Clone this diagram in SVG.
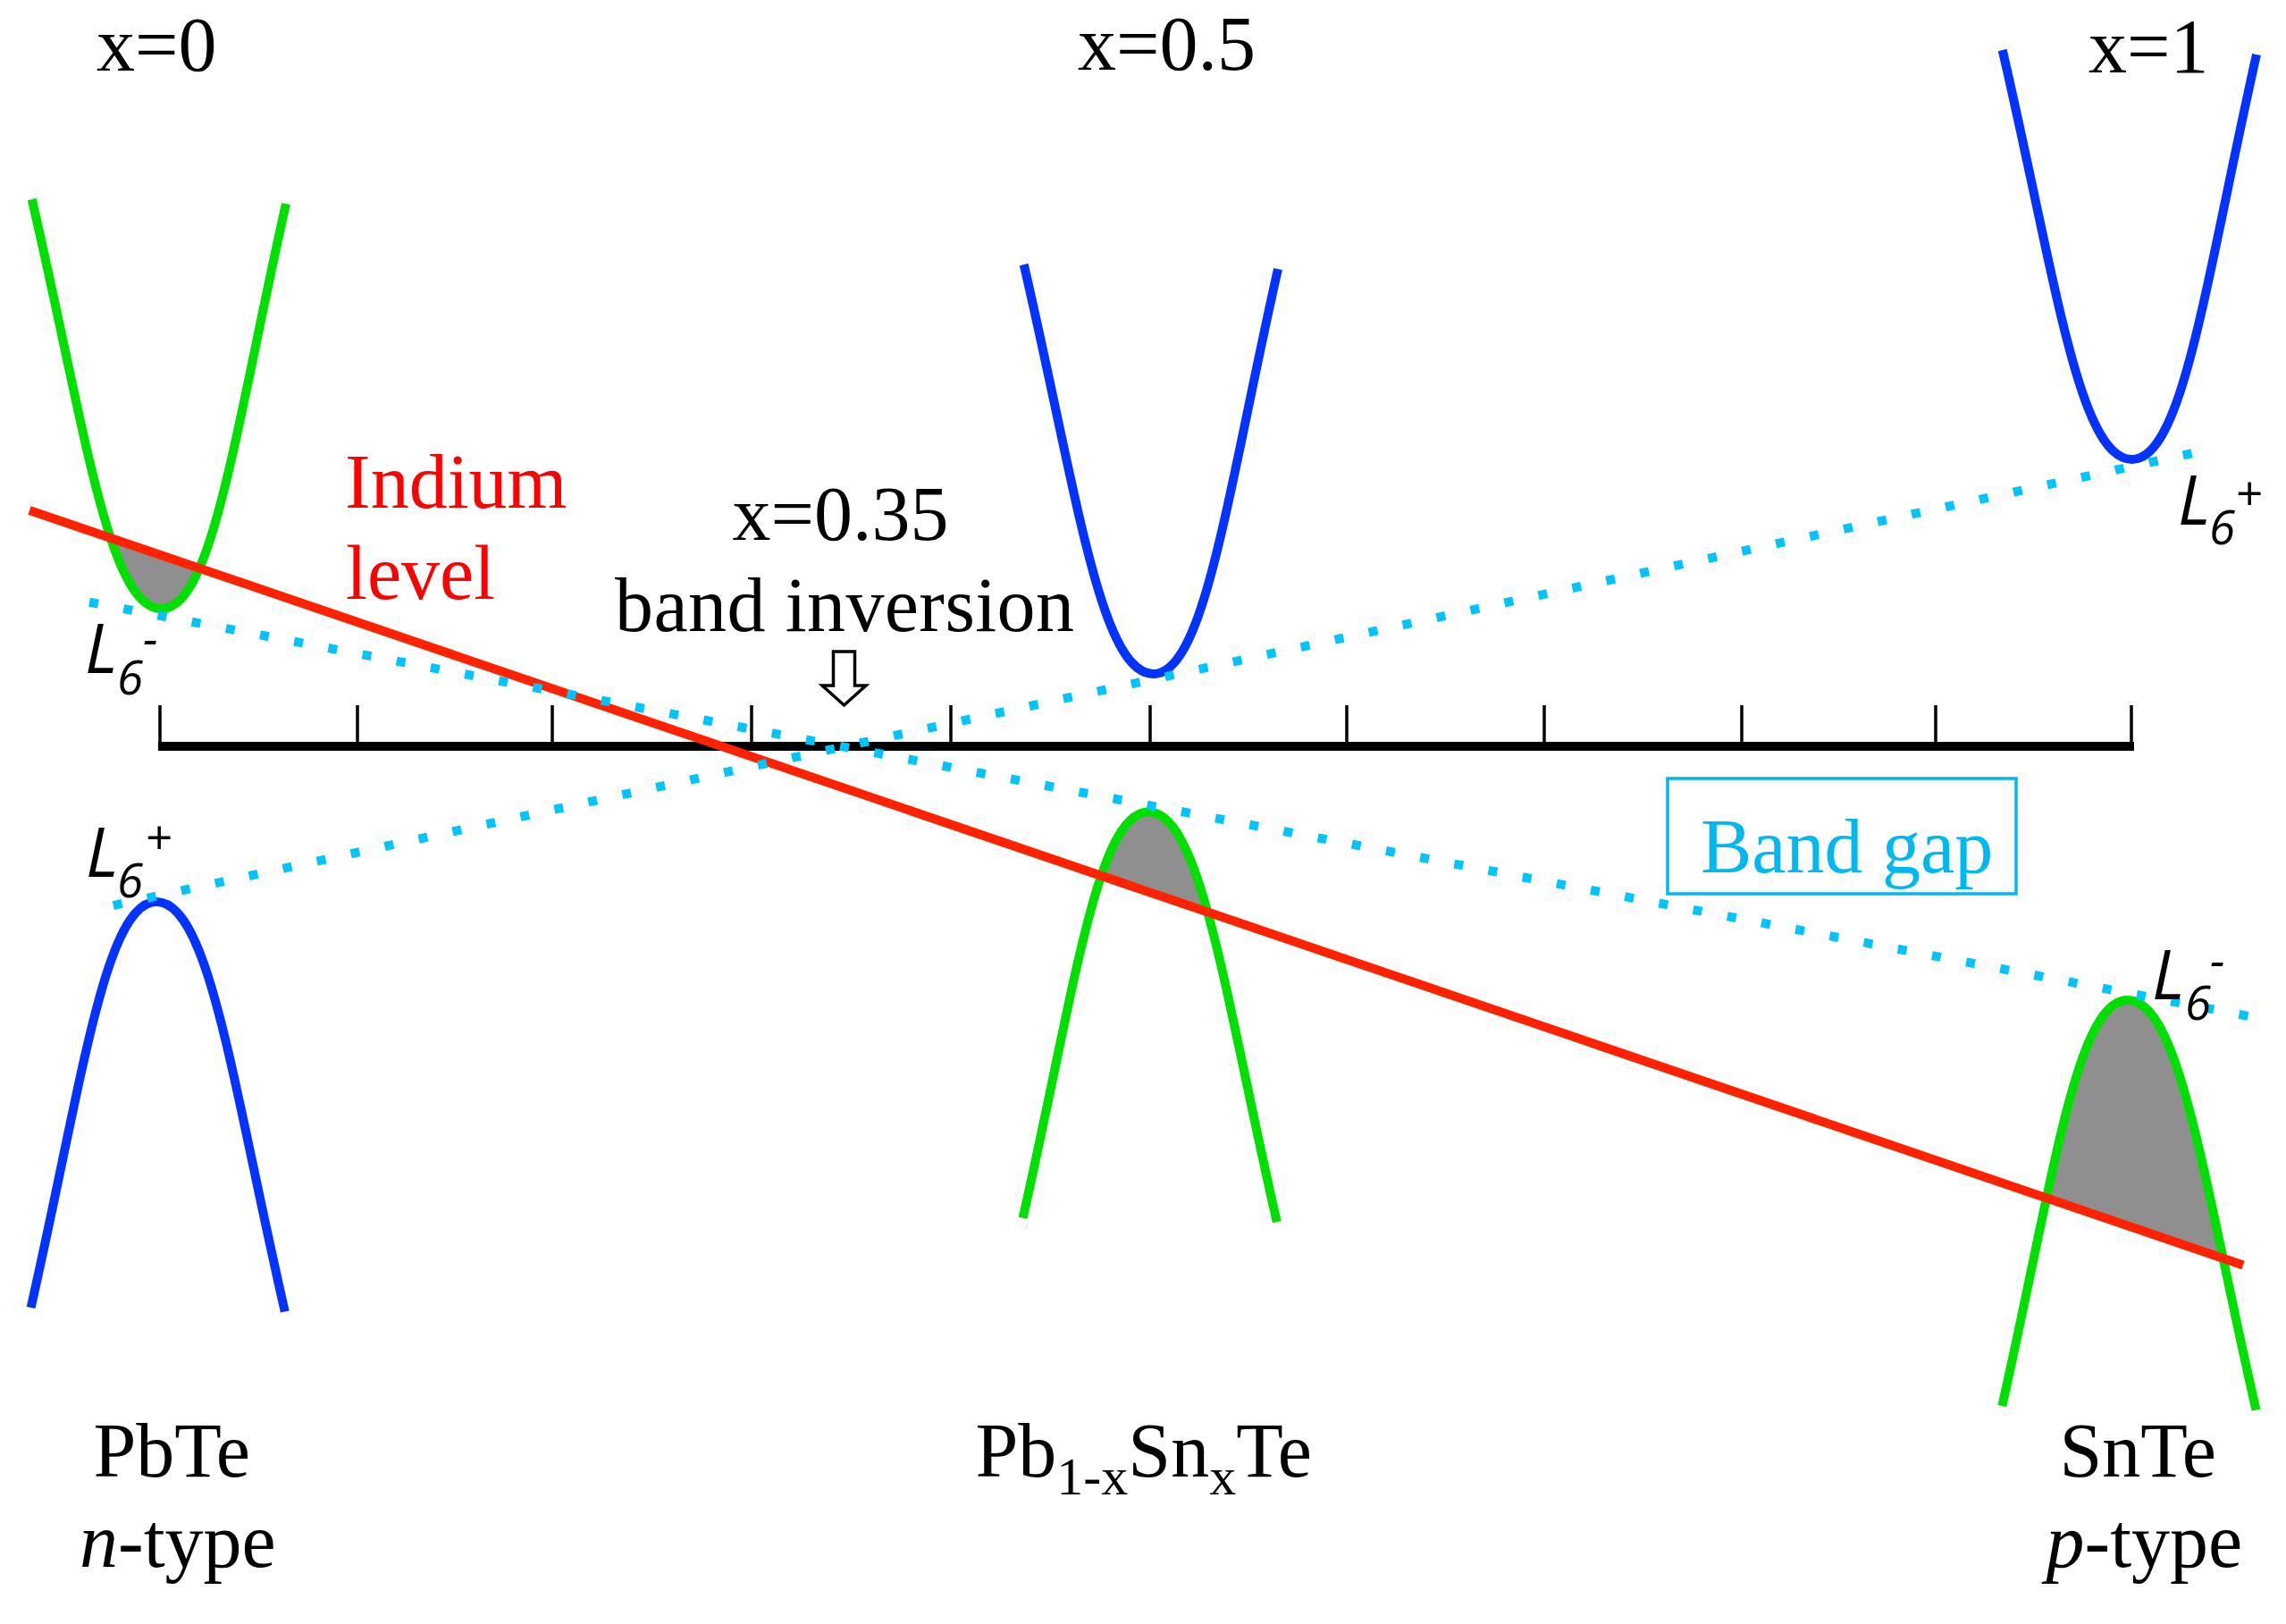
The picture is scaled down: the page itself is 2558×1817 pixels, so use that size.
<svg xmlns="http://www.w3.org/2000/svg" width="2558" height="1817" viewBox="0 0 2558 1817">
<style>
.serif{font-family:"Liberation Serif","Times New Roman",serif;font-size:86px;fill:#000}
.red{fill:#FF0000}
.cyan{fill:#00B8F0}
.lab{font-family:"Open Sans","Liberation Sans",sans-serif;font-style:italic;fill:#000}
.big{font-size:76px}
.small{font-size:53px}
.band{fill:none;stroke-width:10}
.green{stroke:#00E000}
.blue{stroke:#0433FF}
.shade{fill:#8F8F8F;stroke:none}
.dot{fill:none;stroke:#00C4FF;stroke-width:10}
.tick{stroke:#000;stroke-width:3.5}
</style>
<defs>
<path id="cbShape" d="M-145,-458 C-85.55,-201.5 -59.45,0 0,0 C57.1,0 82.2,-199.3 139.3,-453"/>
<path id="vbShape" d="M-140.4,454 C-82.8,199.8 -57.6,0 0,0 C59,0 84.8,201.7 143.8,458.5"/>
<clipPath id="belowRed" clipPathUnits="userSpaceOnUse"><polygon points="0,559.7 2558,1431.8 2558,1817 0,1817"/></clipPath>
<clipPath id="aboveRed" clipPathUnits="userSpaceOnUse"><polygon points="0,0 2558,0 2558,1431.8 0,559.7"/></clipPath>
</defs>
<rect width="2558" height="1817" fill="#fff"/>

<g id="shading">
<g clip-path="url(#belowRed)"><use href="#cbShape" class="shade" transform="translate(180.7,681)"/></g>
<g clip-path="url(#aboveRed)"><use href="#vbShape" class="shade" transform="translate(1285,908.6)"/></g>
<g clip-path="url(#aboveRed)"><use href="#vbShape" class="shade" transform="translate(2380.7,1119)"/></g>
</g>

<g id="axis">
<line x1="177" y1="835" x2="2388" y2="835" stroke="#000" stroke-width="10"/>
<line class="tick" x1="179" y1="789" x2="179" y2="835"/>
<line class="tick" x1="400" y1="789" x2="400" y2="835"/>
<line class="tick" x1="618" y1="789" x2="618" y2="835"/>
<line class="tick" x1="841" y1="789" x2="841" y2="835"/>
<line class="tick" x1="1064" y1="789" x2="1064" y2="835"/>
<line class="tick" x1="1287" y1="789" x2="1287" y2="835"/>
<line class="tick" x1="1507" y1="789" x2="1507" y2="835"/>
<line class="tick" x1="1728" y1="789" x2="1728" y2="835"/>
<line class="tick" x1="1949" y1="789" x2="1949" y2="835"/>
<line class="tick" x1="2166" y1="789" x2="2166" y2="835"/>
<line class="tick" x1="2385" y1="789" x2="2385" y2="835"/>
</g>

<g id="band-x0">
<use href="#cbShape" class="band green" transform="translate(180.7,681)"/>
<use href="#vbShape" class="band blue" transform="translate(175,1009)"/>
</g>
<g id="band-x05">
<use href="#cbShape" class="band blue" transform="translate(1290.7,754)"/>
<use href="#vbShape" class="band green" transform="translate(1285,908.6)"/>
</g>
<g id="band-x1">
<use href="#cbShape" class="band blue" transform="translate(2385.7,514)"/>
<use href="#vbShape" class="band green" transform="translate(2380.7,1119)"/>
</g>

<g id="indium-line">
<line x1="33" y1="571" x2="2510" y2="1415.4" stroke="#FF2200" stroke-width="10"/>
</g>

<g id="gap-lines">
<line class="dot" x1="100.09" y1="673.76" x2="2515.4" y2="1136.84" stroke-dasharray="10 28.877"/>
<line class="dot" x1="126.81" y1="1013.06" x2="2452.59" y2="507.24" stroke-dasharray="10 28.854"/>
</g>

<g id="inversion-arrow">
<path d="M932.5,729 L956.5,729 L956.5,767 L969,767 L944.5,789 L920,767 L932.5,767 Z" fill="#fff" stroke="#000" stroke-width="3.5" stroke-linejoin="miter"/>
</g>

<g id="band-gap-label">
<rect x="1866" y="871" width="390" height="129" fill="none" stroke="#00B8F0" stroke-width="3.5"/>
<text class="serif cyan" x="1903" y="976">Band gap</text>
</g>

<g id="labels">
<text class="serif" x="108" y="79">x=0</text>
<text class="serif" x="1206" y="78">x=0.5</text>
<text class="serif" x="2337" y="81">x=1</text>
<text class="serif" x="819.5" y="604">x=0.35</text>
<text class="serif" x="688" y="706" textLength="514">band inversion</text>
<text class="serif red" x="386" y="567.5">Indium</text>
<text class="serif red" x="387" y="669.5">level</text>
<text class="serif" x="104.5" y="1652">PbTe</text>
<text class="serif" x="89" y="1753"><tspan font-style="italic">n</tspan>-type</text>
<text class="serif" x="1091.5" y="1652">Pb<tspan font-size="60" dy="20">1-x</tspan><tspan dy="-20">Sn</tspan><tspan font-size="60" dy="20">x</tspan><tspan dy="-20">Te</tspan></text>
<text class="serif" x="2304.5" y="1652">SnTe</text>
<text class="serif" x="2289.5" y="1753"><tspan font-style="italic">p</tspan>-type</text>
</g>

<g id="L-labels">
<text class="lab"><tspan class="big" x="95" y="753">L</tspan><tspan class="small" x="131" y="776.5">6</tspan><tspan class="small" x="160" y="733">-</tspan></text>
<text class="lab"><tspan class="big" x="96" y="981">L</tspan><tspan class="small" x="131" y="1003.5">6</tspan><tspan class="small" x="162" y="956">+</tspan></text>
<text class="lab"><tspan class="big" x="2437" y="587">L</tspan><tspan class="small" x="2472" y="609">6</tspan><tspan class="small" x="2501" y="571">+</tspan></text>
<text class="lab"><tspan class="big" x="2408" y="1118">L</tspan><tspan class="small" x="2445" y="1141">6</tspan><tspan class="small" x="2473" y="1093">-</tspan></text>
</g>
</svg>
